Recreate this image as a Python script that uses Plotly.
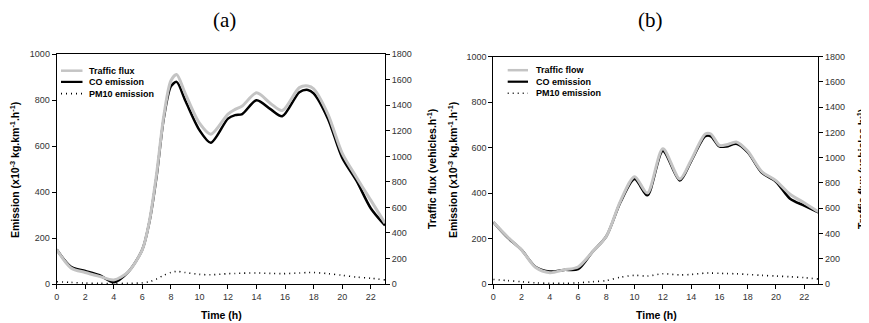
import plotly.graph_objects as go

# ---------------- data ----------------
hours_a = [0, 1, 2, 3, 4, 5, 6, 6.5, 7, 7.5, 8, 8.4, 9, 10, 10.8, 12, 12.5, 13, 14, 15, 15.8, 17, 17.6, 18, 19, 20, 21, 22, 23]
traffic_a = [270, 126, 90, 60, 32, 94, 270, 495, 864, 1314, 1593, 1642, 1494, 1260, 1174, 1332, 1368, 1395, 1498, 1413, 1359, 1539, 1552, 1530, 1332, 1026, 837, 657, 477]
co_a = [150, 75, 57, 38, 8, 52, 150, 272, 470, 720, 860, 880, 800, 670, 615, 720, 735, 740, 800, 760, 730, 835, 845, 830, 720, 550, 450, 330, 255]
pm10_a = [10, 7, 4, 3, 2, 3, 5, 10, 22, 38, 50, 55, 50, 42, 40, 45, 46, 47, 48, 46, 45, 48, 50, 50, 45, 38, 30, 25, 18]

hours_b = [0, 1, 2, 3, 4, 5, 6, 7, 8, 9, 10, 10.9, 12, 13.2, 14, 15, 15.4, 16, 16.5, 17.2, 18, 19, 20, 21, 22, 23]
traffic_b = [490, 374, 270, 130, 90, 112, 135, 252, 378, 657, 850, 720, 1071, 832, 981, 1188, 1188, 1098, 1102, 1125, 1053, 891, 819, 711, 644, 572]
co_b = [272, 205, 150, 75, 55, 62, 65, 140, 210, 360, 462, 390, 585, 455, 540, 650, 650, 605, 605, 617, 580, 490, 450, 375, 345, 315]
pm10_b = [20, 15, 10, 5, 3, 3, 5, 10, 15, 30, 38, 35, 45, 40, 42, 48, 48, 47, 46, 45, 42, 38, 35, 32, 28, 22]

x_ticks = [0, 2, 4, 6, 8, 10, 12, 14, 16, 18, 20, 22]
left_ticks = [0, 200, 400, 600, 800, 1000]
right_ticks = [0, 200, 400, 600, 800, 1000, 1200, 1400, 1600, 1800]

# ---------------- figure ----------------
# page has an 8px body margin: figure sized to fill the remaining viewport
OFF = 8
W, H = 869 - OFF, 323 - OFF
def px(x):
    return (x - OFF) / W
def py(y):
    return 1 - (y - OFF) / H

GRAY = "#c4c4c4"
DOT = "1px,4px"
fig = go.Figure()

def add_panel(hours, traffic, co, pm10, xa, ya, ya2, traffic_name):
    fig.add_trace(go.Scatter(x=hours, y=traffic, name=traffic_name, mode="lines",
                             line=dict(color=GRAY, width=3, shape="spline", smoothing=0.8),
                             xaxis=xa, yaxis=ya2, showlegend=False))
    fig.add_trace(go.Scatter(x=hours, y=co, name="CO emission", mode="lines",
                             line=dict(color="black", width=2.5, shape="spline", smoothing=0.8),
                             xaxis=xa, yaxis=ya, showlegend=False))
    fig.add_trace(go.Scatter(x=hours, y=pm10, name="PM10 emission", mode="lines",
                             line=dict(color="black", width=1.6, dash=DOT, shape="spline", smoothing=0.8),
                             xaxis=xa, yaxis=ya, showlegend=False))

add_panel(hours_a, traffic_a, co_a, pm10_a, "x", "y", "y2", "Traffic flux")
add_panel(hours_b, traffic_b, co_b, pm10_b, "x2", "y3", "y4", "Traffic flow")

tickfont = dict(family="Liberation Sans, Arial", size=9, color="#333")
common_x = dict(range=[0, 23], tickvals=x_ticks, ticks="outside", ticklen=4, tickcolor="black",
                showline=True, linecolor="black", linewidth=1, mirror=True, showgrid=False,
                zeroline=False, tickfont=tickfont, automargin=False)
common_y = dict(ticks="outside", ticklen=4, tickcolor="black", showline=True, linecolor="black",
                linewidth=1, showgrid=False, zeroline=False, tickfont=tickfont, automargin=False)

dom_a = [px(56.7), px(385)]
dom_b = [px(493.3), px(818.3)]
ydom_a = [py(284), py(54.3)]
ydom_b = [py(284), py(56.7)]

fig.update_layout(
    width=W, height=H, margin=dict(l=0, r=0, t=0, b=0, autoexpand=False),
    paper_bgcolor="white", plot_bgcolor="white", showlegend=False,
    xaxis=dict(domain=dom_a, anchor="y", **common_x),
    yaxis=dict(domain=ydom_a, anchor="x", range=[0, 1000], tickvals=left_ticks, **common_y),
    yaxis2=dict(overlaying="y", side="right", anchor="x", range=[0, 1800], tickvals=right_ticks, **common_y),
    xaxis2=dict(domain=dom_b, anchor="y3", **common_x),
    yaxis3=dict(domain=ydom_b, anchor="x2", range=[0, 1000], tickvals=left_ticks, **common_y),
    yaxis4=dict(overlaying="y3", side="right", anchor="x2", range=[0, 1800], tickvals=right_ticks, **common_y),
)

# manual legends (swatches + labels) in paper coordinates
legend_font = dict(family="Liberation Sans, Arial", size=9, color="black", weight="bold")
shapes = []
ann = []
def add_legend(x0, x1, xt, rows, labels):
    styles = [dict(color=GRAY, width=2.5), dict(color="black", width=2.2), dict(color="black", width=1.6, dash=DOT)]
    for yy, lab, st in zip(rows, labels, styles):
        shapes.append(dict(type="line", xref="paper", yref="paper", x0=px(x0), x1=px(x1),
                           y0=py(yy), y1=py(yy), line=st))
        ann.append(dict(text=lab, x=px(xt), y=py(yy), xanchor="left", yanchor="middle", font=legend_font))

add_legend(61, 82.5, 87, [70.7, 81.9, 93.6], ["Traffic flux", "CO emission", "PM10 emission"])
add_legend(507.7, 528, 533.5, [70.2, 81.7, 93.3], ["Traffic flow", "CO emission", "PM10 emission"])

title_font = dict(family="Liberation Serif, Times New Roman", size=21, color="black")
axis_font = dict(family="Liberation Sans, Arial", size=10.5, color="black", weight="bold")
for a in [
    dict(text="(a)", x=px(224), y=py(20), font=title_font),
    dict(text="(b)", x=px(650), y=py(20), font=title_font),
    dict(text="Time (h)", x=px(221), y=py(315), font=axis_font),
    dict(text="Time (h)", x=px(656), y=py(315), font=axis_font),
    dict(text="Emission (x10<sup>-3</sup> kg.km<sup>-1</sup>.h<sup>-1</sup>)", x=px(15), y=py(170), textangle=-90, font=axis_font),
    dict(text="Traffic flux (vehicles.h<sup>-1</sup>)", x=px(431), y=py(169), textangle=-90, font=axis_font),
    dict(text="Emission (x10<sup>-3</sup> kg.km<sup>-1</sup>.h<sup>-1</sup>)", x=px(453), y=py(170), textangle=-90, font=axis_font),
    dict(text="Traffic flux (vehicles.h<sup>-1</sup>)", x=px(861), y=py(169), textangle=-90, font=axis_font),
]:
    ann.append(dict(a, xanchor="center", yanchor="middle"))

fig.update_layout(shapes=shapes,
                  annotations=[dict(a, xref="paper", yref="paper", showarrow=False) for a in ann])

fig.write_html("out.html")
